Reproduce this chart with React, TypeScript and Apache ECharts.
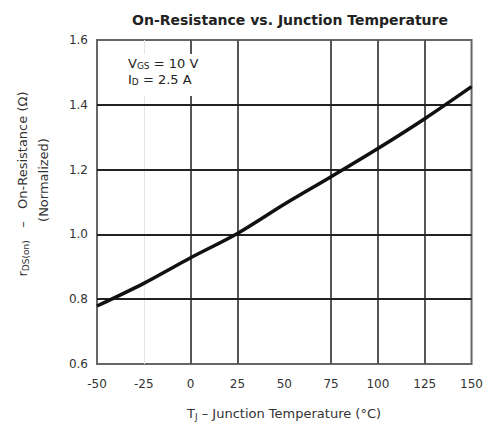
import React, { useEffect, useRef } from "react";
import * as echarts from "echarts";

const temps = [-50, -25, 0, 25, 50, 75, 100, 125, 150];
const rdsNorm = [0.779, 0.849, 0.928, 1.003, 1.093, 1.178, 1.265, 1.357, 1.456];
const xTicks = [-50, -25, 0, 25, 50, 75, 100, 125, 150];
const yTicks = [0.6, 0.8, 1.0, 1.2, 1.4, 1.6];
const darkVLines = [0, 25, 75, 100, 125];
const faintVLines = [-25];
const hLines = [0.8, 1.0, 1.2, 1.4];

const FONT = "DejaVu Sans";

const subStyle = (fill: string, size: number) => ({
  fontSize: size,
  fontFamily: FONT,
  fill,
  verticalAlign: "bottom",
  lineHeight: size,
});

export default function App() {
  const ref = useRef<HTMLDivElement>(null);
  useEffect(() => {
    if (!ref.current) return;
    const chart = echarts.init(ref.current, undefined, { renderer: "svg" });
    const markData: any[] = [
      ...faintVLines.map((v) => ({ xAxis: v, lineStyle: { color: "#e4e4e4", width: 1, type: "solid" } })),
      ...darkVLines.map((v) => ({ xAxis: v, lineStyle: { color: "#555", width: 2, type: "solid" } })),
      ...hLines.map((v) => ({ yAxis: v, lineStyle: { color: "#222", width: 2, type: "solid" } })),
    ];
    chart.setOption({
      animation: false,
      backgroundColor: "#fff",
      title: {
        text: "On-Resistance vs. Junction Temperature",
        left: 285,
        textAlign: "center",
        top: 8,
        textStyle: { fontFamily: FONT, fontSize: 14, fontWeight: "bold", color: "#222" },
      },
      grid: {
        left: 97,
        right: 14,
        top: 40,
        bottom: 60,
        show: true,
        borderColor: "#666",
        borderWidth: 2,
        backgroundColor: "transparent",
      },
      xAxis: {
        type: "value",
        min: -50,
        max: 150,
        interval: 25,
        axisLine: { show: false },
        axisTick: { show: false },
        splitLine: { show: false },
        axisLabel: {
          margin: 14,
          fontFamily: FONT,
          fontSize: 12,
          color: "#333",
          formatter: (v: number) => (xTicks.includes(v) ? String(v) : ""),
        },
      },
      yAxis: {
        type: "value",
        min: 0.6,
        max: 1.6,
        interval: 0.2,
        axisLine: { show: false },
        axisTick: { show: false },
        splitLine: { show: false },
        axisLabel: {
          margin: 9,
          fontFamily: FONT,
          fontSize: 12,
          color: "#333",
          formatter: (v: number) => {
            const t = yTicks.find((y) => Math.abs(y - v) < 1e-6);
            return t !== undefined ? t.toFixed(1) : "";
          },
        },
      },
      graphic: [
        {
          type: "rect",
          z: 100,
          shape: { x: 122, y: 54, width: 92, height: 42 },
          style: { fill: "#fff" },
        },
        {
          type: "text",
          z: 101,
          x: 128,
          y: 55.5,
          style: {
            text: "V{sub|GS} = 10 V",
            fontFamily: FONT,
            fontSize: 13,
            lineHeight: 15,
            fill: "#222",
            rich: { sub: subStyle("#222", 9) },
          },
        },
        {
          type: "text",
          z: 101,
          x: 128,
          y: 71.5,
          style: {
            text: "I{sub|D} = 2.5 A",
            fontFamily: FONT,
            fontSize: 13,
            lineHeight: 15,
            fill: "#222",
            rich: { sub: subStyle("#222", 9) },
          },
        },
        {
          type: "text",
          z: 101,
          x: 22,
          y: 184,
          rotation: Math.PI / 2,
          style: {
            text: "r{sub|DS(on)}   –   On-Resistance (Ω)",
            fontFamily: FONT,
            fontSize: 13,
            lineHeight: 17,
            fill: "#333",
            align: "center",
            verticalAlign: "middle",
            rich: { sub: subStyle("#333", 9) },
          },
        },
        {
          type: "text",
          z: 101,
          x: 43,
          y: 180,
          rotation: Math.PI / 2,
          style: {
            text: "(Normalized)",
            fontFamily: FONT,
            fontSize: 13,
            fill: "#333",
            align: "center",
            verticalAlign: "middle",
          },
        },
        {
          type: "text",
          z: 101,
          x: 284,
          y: 413,
          style: {
            text: "T{sub|J} – Junction Temperature (°C)",
            fontFamily: FONT,
            fontSize: 13,
            lineHeight: 17,
            fill: "#333",
            align: "center",
            verticalAlign: "middle",
            rich: { sub: subStyle("#333", 9) },
          },
        },
      ],
      series: [
        {
          type: "line",
          data: temps.map((t, i) => [t, rdsNorm[i]]),
          smooth: 0.3,
          showSymbol: false,
          symbol: "none",
          z: 5,
          lineStyle: { color: "#111", width: 3.5 },
          markLine: {
            silent: true,
            symbol: ["none", "none"],
            label: { show: false },
            z: 1,
            data: markData,
          },
        },
      ],
    });
    return () => chart.dispose();
  }, []);
  return (
    <div
      ref={ref}
      style={{ position: "fixed", left: 0, top: 0, width: 486, height: 424 }}
    />
  );
}
